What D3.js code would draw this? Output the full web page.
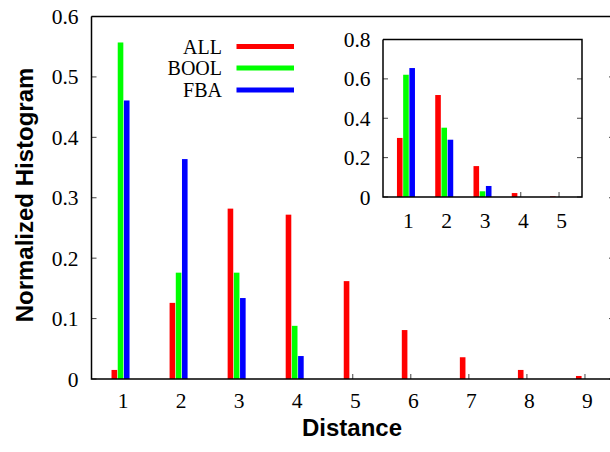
<!DOCTYPE html>
<html><head><meta charset="utf-8">
<script src="https://cdn.jsdelivr.net/npm/d3@7"></script>
<style>body{margin:0;background:#fff}svg{display:block}</style>
</head><body>
<svg id="c" width="610" height="452"></svg>
<script>
// ---- data ----
const distances = [1,2,3,4,5,6,7,8,9];
const seriesNames = ["ALL","BOOL","FBA"];
const allMain  = [0.015,0.126,0.282,0.272,0.162,0.081,0.036,0.015,0.005];
const boolMain = [0.557,0.176,0.176,0.088,0,0,0,0,0];
const fbaMain  = [0.461,0.364,0.134,0.038,0,0,0,0,0];
const yTicksMain = [0,0.1,0.2,0.3,0.4,0.5,0.6];

const insetDistances = [1,2,3,4,5];
const allInset  = [0.30,0.518,0.157,0.02,0.003];
const boolInset = [0.621,0.352,0.029,0,0];
const fbaInset  = [0.655,0.291,0.056,0,0];
const yTicksInset = [0,0.2,0.4,0.6,0.8];

const colors = ["#ff0000","#00ff00","#0000ff"];
const serif = "'Liberation Serif','Times New Roman',serif";
const sans = "'Liberation Sans',Arial,sans-serif";

const svg = d3.select("#c");

function panel(o){
  const g = svg.append("g");
  const x = d3.scaleLinear().domain(o.xDomain).range([o.left,o.right]);
  const y = d3.scaleLinear().domain(o.yDomain).range([o.bottom,o.top]);
  // ticks (inward)
  const tk = g.append("g").attr("stroke","#444").attr("stroke-width",1);
  o.yTicks.forEach(v=>{
    if(o.leftTicks) tk.append("line").attr("x1",o.left).attr("x2",o.left+5).attr("y1",y(v)).attr("y2",y(v));
    tk.append("line").attr("x1",o.right-5).attr("x2",o.right).attr("y1",y(v)).attr("y2",y(v));
  });
  o.cats.forEach(v=>{
    tk.append("line").attr("x1",x(v)).attr("x2",x(v)).attr("y1",o.bottom).attr("y2",o.bottom-5);
  });
  // bars
  o.series.forEach((vals,si)=>{
    g.append("g").selectAll("rect").data(vals).join("rect")
      .attr("x",(d,i)=>x(o.cats[i]) + (si-1)*o.off - o.bw/2)
      .attr("width",o.bw)
      .attr("y",d=>y(d))
      .attr("height",d=>Math.max(0,y(0)-y(d)))
      .attr("fill",colors[si]);
  });
  // border
  const b = g.append("g").attr("stroke","#000").attr("stroke-width",1.5).attr("fill","none");
  b.append("path").attr("d",`M${o.left},${o.top}V${o.bottom}H${o.right}V${o.top}H${o.left}`);
  // labels
  const lab = g.append("g").attr("font-family",serif).attr("font-size",o.fs).attr("fill","#000");
  o.yTicks.forEach(v=>{
    lab.append("text").attr("x",o.left-o.ylGap).attr("y",y(v)).attr("dy","0.35em")
      .attr("text-anchor","end").text(d3.format(o.yfmt)(v));
  });
  o.cats.forEach(v=>{
    lab.append("text").attr("x",x(v)+2.5).attr("y",o.xlBase).attr("text-anchor","middle").text(v);
  });
  return {x,y,g};
}

// main plot
panel({xDomain:[0.5,9.5], yDomain:[0,0.6], left:91.5, right:614, top:16.5, bottom:379,
  cats:distances, series:[allMain,boolMain,fbaMain], yTicks:yTicksMain, yfmt:"~g",
  bw:5.6, off:6.2, fs:21.5, ylGap:13, xlBase:408, leftTicks:true});

// inset background (white) then plot
svg.append("rect").attr("x",383).attr("y",39.5).attr("width",199).attr("height",158).attr("fill","#fff");
panel({xDomain:[0.4,5.6], yDomain:[0,0.8], left:383, right:582, top:39.5, bottom:197,
  cats:insetDistances, series:[allInset,boolInset,fbaInset], yTicks:yTicksInset, yfmt:"~g",
  bw:5.6, off:6.2, fs:21.5, ylGap:12.5, xlBase:227.5, leftTicks:true});

// legend
const leg = svg.append("g");
const legY = [46.5,68,90];
seriesNames.forEach((n,i)=>{
  leg.append("text").attr("x",222).attr("y",legY[i]).attr("dy","0.35em").attr("text-anchor","end")
    .attr("font-family",serif).attr("font-size",20).text(n);
  leg.append("line").attr("x1",236.5).attr("x2",294).attr("y1",legY[i]).attr("y2",legY[i])
    .attr("stroke",colors[i]).attr("stroke-width",5);
});

// axis titles
svg.append("text").attr("x",352).attr("y",436).attr("text-anchor","middle")
  .attr("font-family",sans).attr("font-weight","bold").attr("font-size",24).text("Distance");
svg.append("text").attr("transform","translate(33,195) rotate(-90)").attr("text-anchor","middle")
  .attr("font-family",sans).attr("font-weight","bold").attr("font-size",24).text("Normalized Histogram");
</script>
</body></html>
